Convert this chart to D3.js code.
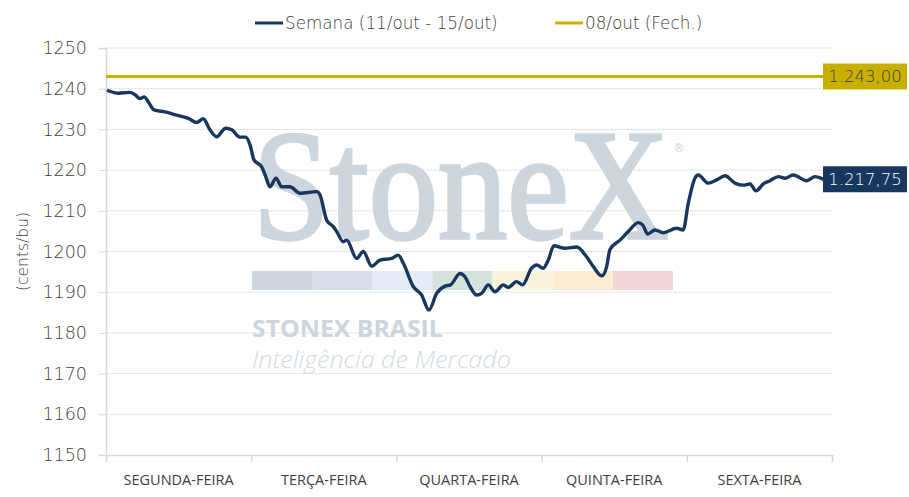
<!DOCTYPE html>
<html>
<head>
<meta charset="utf-8">
<script src="https://cdn.jsdelivr.net/npm/d3@7"></script>
<style>
  html, body { margin: 0; padding: 0; background: #fff; }
  svg { display: block; font-family: "DejaVu Sans", "Open Sans", sans-serif; }
</style>
</head>
<body>
<svg id="chart" width="909" height="497"></svg>
<script>
// dias da semana (faixas do eixo x)
var dias = ['SEGUNDA-FEIRA', 'TERÇA-FEIRA', 'QUARTA-FEIRA', 'QUINTA-FEIRA', 'SEXTA-FEIRA'];

// posição no tempo (em dias desde a abertura de segunda) e preço (cents/bu)
var tempo = [0.016, 0.085, 0.165, 0.2, 0.234, 0.264, 0.291, 0.331, 0.406, 0.487,
  0.567, 0.625, 0.67, 0.716, 0.762, 0.824, 0.866, 0.923, 0.962, 0.992,
  1.019, 1.072, 1.1, 1.129, 1.171, 1.21, 1.267, 1.336, 1.451, 1.474,
  1.52, 1.565, 1.589, 1.634, 1.658, 1.726, 1.772, 1.83, 1.887, 1.967,
  2.013, 2.048, 2.116, 2.174, 2.224, 2.277, 2.335, 2.373, 2.438, 2.472,
  2.507, 2.553, 2.587, 2.633, 2.679, 2.736, 2.77, 2.828, 2.869, 2.931,
  2.966, 3.011, 3.046, 3.085, 3.161, 3.242, 3.31, 3.356, 3.414, 3.448,
  3.471, 3.54, 3.597, 3.666, 3.697, 3.731, 3.781, 3.838, 3.93, 3.975,
  4.01, 4.056, 4.079, 4.148, 4.206, 4.263, 4.332, 4.389, 4.435, 4.477,
  4.527, 4.573, 4.63, 4.676, 4.733, 4.826, 4.883, 4.94];
var semana = [1239.5, 1238.9, 1239.1, 1238.5, 1237.6, 1238, 1236.8, 1234.8, 1234.3, 1233.5,
  1232.7, 1231.7, 1232.6, 1229.9, 1228.2, 1230.3, 1229.9, 1228.1, 1228.1, 1226.2,
  1222.5, 1220.8, 1218.4, 1215.9, 1218, 1215.9, 1215.9, 1214.3, 1214.7, 1213.9,
  1207.7, 1206.1, 1204.9, 1202.4, 1202.8, 1198.3, 1200, 1196.4, 1197.9, 1198.3,
  1199.1, 1197.1, 1191.4, 1189.3, 1185.6, 1189.7, 1191.5, 1191.8, 1194.6, 1193.8,
  1191.4, 1189.3, 1189.7, 1191.8, 1190.1, 1191.8, 1191.2, 1192.6, 1191.8, 1195.9,
  1196.7, 1195.9, 1197.9, 1201.4, 1200.8, 1201.1, 1198.7, 1196.3, 1194, 1196.3,
  1200.5, 1202.8, 1204.9, 1207.1, 1206.5, 1204.3, 1205.3, 1204.6, 1205.7, 1205.3,
  1211.8, 1218, 1218.8, 1216.8, 1217.6, 1218.6, 1216.8, 1216.3, 1216.6, 1214.9,
  1216.6, 1217.4, 1218.4, 1218, 1218.8, 1217.4, 1218.4, 1217.75];

var fechamento = 1243.00;          // 08/out (Fech.)
var ultimo = 1217.75;
var yTicks = [1150, 1160, 1170, 1180, 1190, 1200, 1210, 1220, 1230, 1240, 1250];
var legenda = ['Semana (11/out - 15/out)', '08/out (Fech.)'];
var cores = ['#17375e', '#c9b000'];
var faixaCores = ['#cdd5dd', '#d6dfe8', '#e4edf5', '#d3e3dc', '#f9f4dc', '#fcedd2', '#f2d5d7'];

var svg = d3.select('#chart');
var margin = { left: 106, right: 77, top: 48, bottom: 42 };
var W = 909, H = 497;
var txt = '#404040';

var x = d3.scaleLinear().domain([0, dias.length]).range([margin.left, W - margin.right]);
var y = d3.scaleLinear().domain([1150, 1250]).range([H - margin.bottom, margin.top]);

// grade horizontal
svg.append('g').selectAll('line').data(yTicks.slice(1)).join('line')
  .attr('x1', margin.left).attr('x2', W - margin.right)
  .attr('y1', function(d) { return y(d); }).attr('y2', function(d) { return y(d); })
  .attr('stroke', '#dcdcdc').attr('stroke-width', 1).attr('stroke-dasharray', '3,1');

// texto esticado/comprimido por escala horizontal até a largura pedida
function fitText(sel, x0, y0, width) {
  var len = sel.node().getComputedTextLength();
  sel.attr('x', 0).attr('y', 0)
    .attr('transform', 'translate(' + x0 + ',' + y0 + ') scale(' + (width / len) + ',1)');
  return sel;
}

// marca d'água
var wm = svg.append('g');
fitText(wm.append('text').text('StoneX')
  .style('font-family', '"Liberation Serif", "DejaVu Serif", serif')
  .style('font-size', '156px')
  .attr('fill', '#cdd5dd').attr('stroke', '#cdd5dd').attr('stroke-width', 3.4), 253, 238, 416);
wm.append('text').text('®').attr('x', 673).attr('y', 152)
  .style('font-size', '12px').attr('fill', '#cdd5dd');
var fx = d3.scaleBand().domain(d3.range(faixaCores.length)).range([252, 673]);
wm.selectAll('rect').data(faixaCores).join('rect')
  .attr('x', function(d, i) { return fx(i); }).attr('y', 271)
  .attr('width', fx.bandwidth()).attr('height', 19)
  .attr('fill', function(d) { return d; });
fitText(wm.append('text').text('STONEX BRASIL')
  .style('font-family', '"Open Sans", sans-serif')
  .style('font-size', '23px').style('font-weight', 'bold').attr('fill', '#cdd5dd'), 252, 337, 191);
fitText(wm.append('text').text('Inteligência de Mercado')
  .style('font-family', '"Open Sans", sans-serif')
  .style('font-size', '24px').style('font-style', 'italic').style('font-weight', 300)
  .attr('fill', '#d3dae2'), 252, 368, 259);

// eixo y
var yAxis = svg.append('g').attr('transform', 'translate(' + margin.left + ',0)')
  .call(d3.axisLeft(y).tickValues(yTicks).tickSize(7).tickPadding(12).tickFormat(d3.format('d')));
yAxis.select('.domain').attr('stroke', '#d9d9d9').attr('stroke-width', 1.5);
yAxis.selectAll('.tick line').attr('stroke', '#d9d9d9');
yAxis.selectAll('.tick text').attr('fill', txt)
  .style('font-size', '17.5px').style('font-family', '"DejaVu Sans", sans-serif').style('font-weight', 200);

svg.append('text').text('(cents/bu)')
  .attr('transform', 'translate(28,' + ((margin.top + H - margin.bottom) / 2) + ') rotate(-90)')
  .attr('text-anchor', 'middle').attr('fill', txt)
  .style('font-size', '15.5px').style('font-weight', 200);

// eixo x
var xAxis = svg.append('g').attr('transform', 'translate(0,' + y(1150) + ')')
  .call(d3.axisBottom(x).tickValues(d3.range(dias.length + 1)).tickSize(7).tickFormat(''));
xAxis.select('.domain').attr('stroke', '#d9d9d9').attr('stroke-width', 1.5);
xAxis.selectAll('.tick line').attr('stroke', '#d9d9d9').attr('stroke-width', 1.5);
svg.append('g').selectAll('text').data(dias).join('text')
  .text(function(d) { return d; })
  .attr('x', function(d, i) { return x(i + 0.5); }).attr('y', 485)
  .attr('text-anchor', 'middle').attr('fill', txt)
  .style('font-family', '"Liberation Sans Narrow", "Open Sans", sans-serif')
  .style('font-size', '14.5px');

// linha de fechamento
svg.append('line')
  .attr('x1', x(0)).attr('x2', W - 86)
  .attr('y1', y(fechamento)).attr('y2', y(fechamento))
  .attr('stroke', cores[1]).attr('stroke-width', 3);

// linha da semana
var pts = tempo.map(function(t, i) { return [t, semana[i]]; });
svg.append('path').datum(pts)
  .attr('fill', 'none').attr('stroke', cores[0]).attr('stroke-width', 3.4)
  .attr('stroke-linejoin', 'round').attr('stroke-linecap', 'round')
  .attr('d', d3.line().x(function(d) { return x(d[0]); }).y(function(d) { return y(d[1]); })
    .curve(d3.curveMonotoneX));

// rótulos de valor
var fmt = function(v) {
  return d3.format(',.2f')(v).replace(/,/g, 'X').replace('.', ',').replace(/X/g, '.');
};
[[fechamento, cores[1], txt], [ultimo, cores[0], '#ffffff']].forEach(function(r) {
  var g = svg.append('g').attr('transform', 'translate(823,' + y(r[0]) + ')');
  g.append('rect').attr('x', 0).attr('y', -13).attr('width', 84).attr('height', 26).attr('fill', r[1]);
  g.append('text').text(fmt(r[0])).attr('x', 42).attr('y', 6)
    .attr('text-anchor', 'middle').attr('fill', r[2])
    .style('font-size', '16.5px').style('font-weight', 200);
});

// legenda
var leg = svg.append('g');
var legX = [255, 555];
legenda.forEach(function(l, i) {
  leg.append('line').attr('x1', legX[i]).attr('x2', legX[i] + 28)
    .attr('y1', 23).attr('y2', 23).attr('stroke', cores[i]).attr('stroke-width', 3);
  leg.append('text').text(l).attr('x', legX[i] + 30).attr('y', 29)
    .attr('fill', txt).style('font-size', '16.8px').style('font-weight', 200);
});
</script>
</body>
</html>
